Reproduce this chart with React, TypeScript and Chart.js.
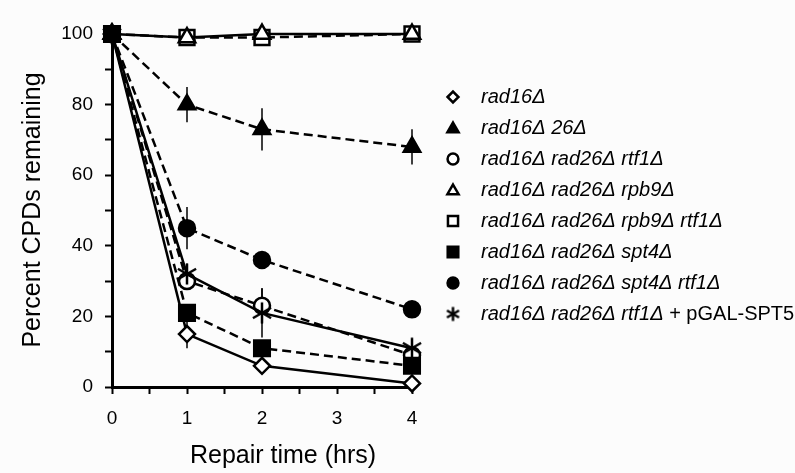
import React, { useEffect, useRef } from "react";
import { Chart, registerables } from "chart.js";

Chart.register(...registerables);

const times = [0, 1, 2, 4];
const seriesNames = [
  "rad16Δ",
  "rad16Δ 26Δ",
  "rad16Δ rad26Δ rtf1Δ",
  "rad16Δ rad26Δ rpb9Δ",
  "rad16Δ rad26Δ rpb9Δ rtf1Δ",
  "rad16Δ rad26Δ spt4Δ",
  "rad16Δ rad26Δ spt4Δ rtf1Δ",
  "rad16Δ rad26Δ rtf1Δ + pGAL-SPT5",
];
const rad16 = [100, 15, 6, 1];
const rad16_26 = [100, 80, 73, 68];
const rtf1 = [100, 30, 23, 9];
const rpb9 = [100, 99, 100, 100];
const rpb9rtf1 = [100, 99, 99, 100];
const spt4 = [100, 21, 11, 6];
const spt4rtf1 = [100, 45, 36, 22];
const pgal = [100, 32, 21, 11];

const rad16Err = [0, 4, 1, 0];
const rad16_26Err = [0, 5, 6, 5];
const rtf1Err = [0, 2, 5, 1];
const rpb9Err = [0, 1, 1, 0];
const rpb9rtf1Err = [0, 2, 2, 0];
const spt4Err = [0, 2, 2, 1];
const spt4rtf1Err = [0, 6, 2, 1];
const pgalErr = [0, 3, 7, 2];

const yTicksLabelled = [0, 20, 40, 60, 80, 100];
const xTicksLabelled = [0, 1, 2, 3, 4];
const xTitle = "Repair time (hrs)";
const yTitle = "Percent CPDs remaining";

const FONT = "'Liberation Sans', Arial, sans-serif";

function makeAsterisk(size: number, lw: number) {
  const c = document.createElement("canvas");
  c.width = size;
  c.height = size;
  const g = c.getContext("2d")!;
  const m = size / 2;
  const r = size / 2 - 1.5;
  g.strokeStyle = "#000";
  g.lineWidth = lw;
  g.lineCap = "butt";
  for (let i = 0; i < 3; i++) {
    const a = Math.PI / 2 + (i * Math.PI) / 3;
    g.beginPath();
    g.moveTo(m - r * Math.cos(a), m - r * Math.sin(a));
    g.lineTo(m + r * Math.cos(a), m + r * Math.sin(a));
    g.stroke();
  }
  return c;
}

function drawMarker(ctx: CanvasRenderingContext2D, style: string, x: number, y: number, r: number, fill: boolean) {
  ctx.beginPath();
  if (style === "circle") {
    ctx.arc(x, y, r, 0, Math.PI * 2);
  } else if (style === "rect") {
    const s = Math.SQRT1_2 * r;
    ctx.rect(x - s, y - s, 2 * s, 2 * s);
  } else if (style === "rectRot") {
    ctx.moveTo(x - r, y);
    ctx.lineTo(x, y - r);
    ctx.lineTo(x + r, y);
    ctx.lineTo(x, y + r);
    ctx.closePath();
  } else if (style === "triangle") {
    for (let k = 0; k < 3; k++) {
      const t = (k * 2 * Math.PI) / 3;
      const px = x + Math.sin(t) * r;
      const py = y - Math.cos(t) * r + r * 0.15;
      if (k === 0) ctx.moveTo(px, py);
      else ctx.lineTo(px, py);
    }
    ctx.closePath();
  }
  ctx.fillStyle = fill ? "#000" : "#fff";
  ctx.fill();
  ctx.stroke();
}

export default function App() {
  const ref = useRef<HTMLCanvasElement>(null);
  useEffect(() => {
    const star = makeAsterisk(24, 2.5);
    const starSmall = makeAsterisk(17, 2.5);
    const D = [9, 5];
    const defs = [
      { data: rad16, err: rad16Err, style: "rectRot", r: 8, fill: false, dash: [] as number[], order: 5 },
      { data: rad16_26, err: rad16_26Err, style: "triangle", r: 9.5, fill: true, dash: D, order: 2 },
      { data: rtf1, err: rtf1Err, style: "circle", r: 8, fill: false, dash: D, order: 6 },
      { data: rpb9, err: rpb9Err, style: "triangle", r: 9.5, fill: false, dash: [] as number[], order: 3 },
      { data: rpb9rtf1, err: rpb9rtf1Err, style: "rect", r: 10.5, fill: false, dash: D, order: 7 },
      { data: spt4, err: spt4Err, style: "rect", r: 11, fill: true, dash: D, order: 0 },
      { data: spt4rtf1, err: spt4rtf1Err, style: "circle", r: 8, fill: true, dash: D, order: 1 },
      { data: pgal, err: pgalErr, style: "star", r: 11, fill: false, dash: [] as number[], order: 4 },
    ];
    const datasets = defs.map((d, i) => ({
      label: seriesNames[i],
      data: d.data.map((v, j) => ({ x: times[j], y: v })),
      borderColor: "#000",
      borderWidth: 2.5,
      borderDash: d.dash,
      pointStyle: d.style === "star" ? (star as any) : d.style,
      pointRadius: d.r,
      pointBorderWidth: 2.5,
      pointBorderColor: "#000",
      pointBackgroundColor: d.fill ? "#000" : "#fff",
      backgroundColor: d.fill ? "#000" : "#fff",
      fill: false,
      clip: false as any,
      tension: 0,
      order: d.order,
    }));

    const errorBars = {
      id: "errorBars",
      beforeDatasetsDraw(chart: any) {
        const { ctx, scales } = chart;
        ctx.save();
        ctx.strokeStyle = "#000";
        ctx.lineWidth = 1.5;
        defs.forEach((d) => {
          d.data.forEach((v, j) => {
            const e = d.err[j];
            if (!e) return;
            const x = scales.x.getPixelForValue(times[j]);
            ctx.beginPath();
            ctx.moveTo(x, scales.y.getPixelForValue(v - e));
            ctx.lineTo(x, scales.y.getPixelForValue(v + e));
            ctx.stroke();
          });
        });
        ctx.restore();
      },
    };

    const bg = {
      id: "bg",
      beforeDraw(chart: any) {
        const { ctx, width, height } = chart;
        ctx.save();
        ctx.fillStyle = "#fcfcfc";
        ctx.fillRect(0, 0, width, height);
        ctx.restore();
      },
    };

    const titles = {
      id: "titles",
      afterDraw(chart: any) {
        const { ctx } = chart;
        ctx.save();
        ctx.fillStyle = "#000";
        ctx.font = "25px " + FONT;
        ctx.textAlign = "center";
        ctx.textBaseline = "alphabetic";
        ctx.fillText(xTitle, 283, 463);
        ctx.translate(40, 210);
        ctx.rotate(-Math.PI / 2);
        ctx.fillText(yTitle, 0, 0);
        ctx.restore();
      },
    };

    const legendPlugin = {
      id: "customLegend",
      afterDraw(chart: any) {
        const { ctx } = chart;
        ctx.save();
        const mx = 453;
        const tx = 481;
        const y0 = 97;
        const step = 31;
        defs.forEach((d, i) => {
          const y = y0 + i * step;
          ctx.lineWidth = 2.5;
          ctx.strokeStyle = "#000";
          if (d.style === "star") {
            ctx.drawImage(starSmall, mx - 8.5, y - 8.5);
          } else {
            drawMarker(ctx, d.style, mx, y, d.r * 0.68, d.fill);
          }
          const label = seriesNames[i];
          const plusIdx = label.indexOf(" + ");
          const italicPart = plusIdx >= 0 ? label.slice(0, plusIdx) : label;
          const normalPart = plusIdx >= 0 ? label.slice(plusIdx + 1) : "";
          ctx.fillStyle = "#000";
          ctx.textBaseline = "middle";
          ctx.textAlign = "left";
          ctx.font = "italic 20px " + FONT;
          ctx.fillText(italicPart, tx, y);
          if (normalPart) {
            const w = ctx.measureText(italicPart + " ").width;
            ctx.font = "20px " + FONT;
            ctx.fillText(normalPart, tx + w, y);
          }
        });
        ctx.restore();
      },
    };

    const chart = new Chart(ref.current!, {
      type: "line",
      data: { datasets: datasets as any },
      options: {
        animation: false,
        responsive: false,
        layout: { padding: { left: 12, right: 383, top: 34, bottom: 0 } },
        plugins: { legend: { display: false }, tooltip: { enabled: false } },
        scales: {
          x: {
            type: "linear",
            min: 0,
            max: 4,
            border: { display: true, color: "#000", width: 3 },
            grid: { display: true, drawOnChartArea: false, drawTicks: true, tickLength: 7, tickWidth: 2, tickColor: "#000" } as any,
            ticks: {
              stepSize: 0.5,
              color: "#000",
              padding: 13,
              font: { family: FONT, size: 19 },
              callback: (v: any) => (xTicksLabelled.includes(Number(v)) ? String(v) : ""),
            },
            title: { display: false },
            afterFit: (s: any) => {
              s.height = 86;
            },
          } as any,
          y: {
            min: 0,
            max: 100,
            border: { display: true, color: "#000", width: 3 },
            grid: { display: true, drawOnChartArea: false, drawTicks: true, tickLength: 7, tickWidth: 2, tickColor: "#000" } as any,
            ticks: {
              stepSize: 10,
              color: "#000",
              padding: 12,
              font: { family: FONT, size: 19 },
              callback: (v: any) => (yTicksLabelled.includes(Number(v)) ? String(v) : ""),
            },
            title: { display: false },
            afterFit: (s: any) => {
              s.width = 100;
            },
          } as any,
        },
      },
      plugins: [bg, errorBars, legendPlugin, titles],
    });
    return () => chart.destroy();
  }, []);
  return (
    <div style={{ position: "absolute", left: 0, top: 0, width: 795, height: 473 }}>
      <canvas ref={ref} width={795} height={473} style={{ width: 795, height: 473 }} />
    </div>
  );
}
